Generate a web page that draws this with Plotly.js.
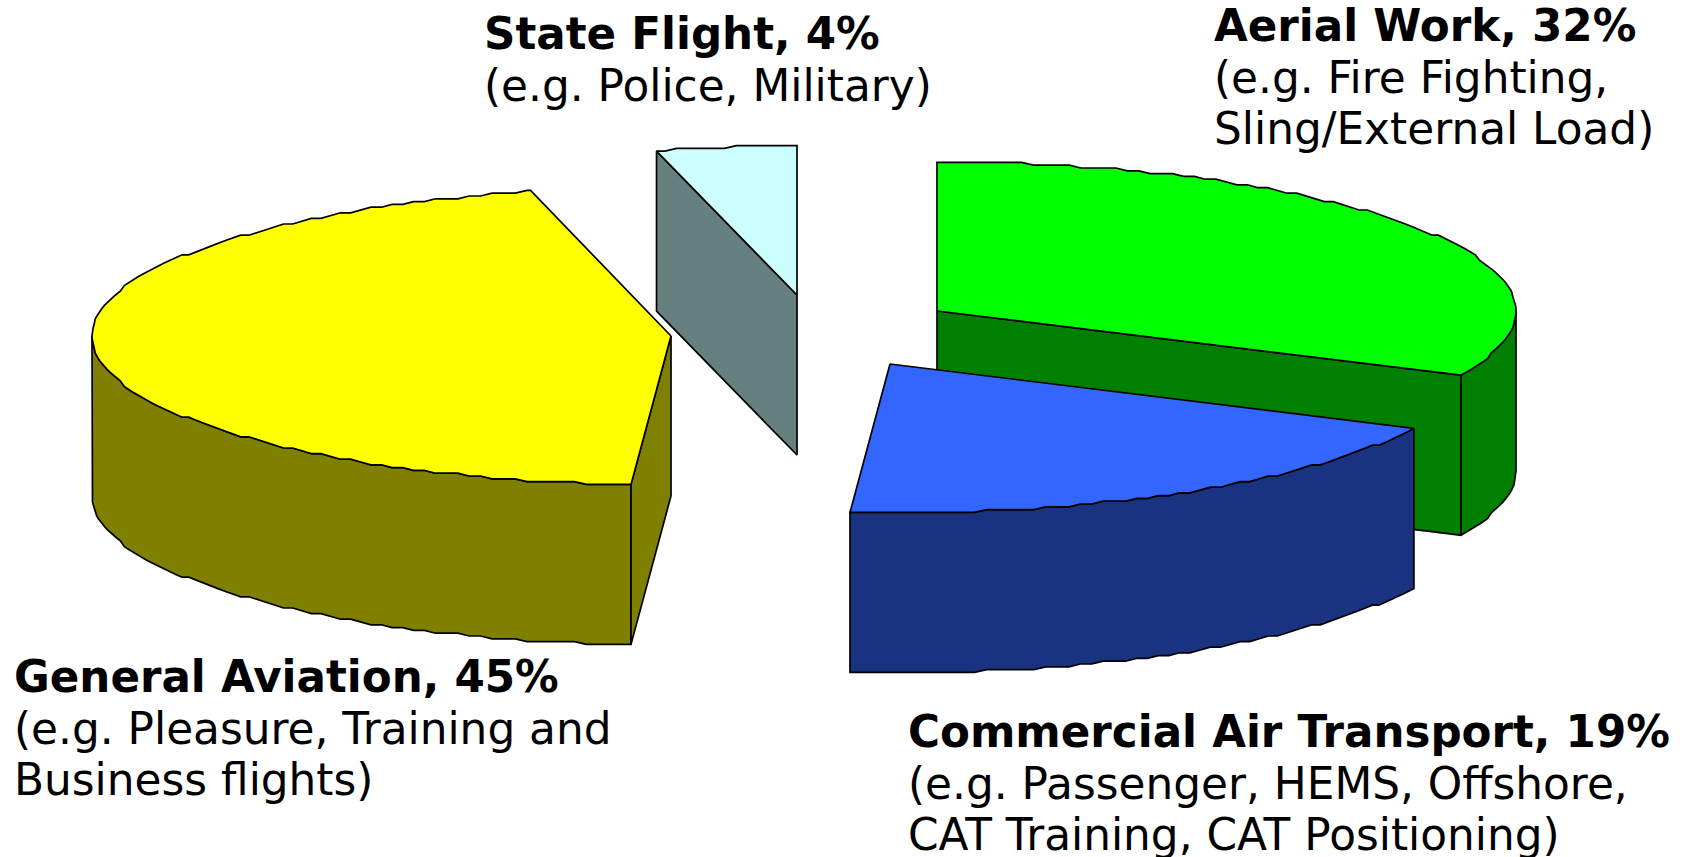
<!DOCTYPE html>
<html>
<head>
<meta charset="utf-8">
<title>Helicopter operations by type</title>
<script src="https://cdn.plot.ly/plotly-3.0.1.min.js"></script>
<style>html,body{margin:0;padding:0;background:#fff;overflow:hidden}#chart{width:1682px;height:857px}</style>
</head>
<body>
<div id="chart"></div>
<script>
// Data, in drawing order round the pie (clockwise from twelve o'clock)
const categories = ['Aerial Work', 'Commercial Air Transport', 'General Aviation', 'State Flight'];
const shares = [32, 19.1, 45, 3.9];
const exampleLines = [
  ['(e.g. Fire Fighting,', 'Sling/External Load)'],
  ['(e.g. Passenger, HEMS, Offshore,', 'CAT Training, CAT Positioning)'],
  ['(e.g. Pleasure, Training and', 'Business flights)'],
  ['(e.g. Police, Military)']
];

// Styles and placement
const topColors = ['#00FF00', '#3366FF', '#FFFF00', '#CCFFFF'];
const sideColors = ['#008000', '#1A3380', '#808000', '#668080'];
const centreX = [937, 890, 671, 797];
const centreY = [311, 364, 336, 295];
const labelX = [1213, 907, 13, 483];
const labelBaseline = [41, 747, 692, 49];
const lineGap = 51;
const drawOrder = [3, 0, 2, 1];
const radiusX = 579, radiusY = 149, depth = 160;
const boldSize = 43.6, plainSize = 43.8;
const LINE = {color: '#000', width: 1.7};
const STEP = 1.2;

function point(i, deg, drop) {
  const a = deg * Math.PI / 180;
  // the source outline is coarsely stepped in y
  const y = Math.round((centreY[i] - radiusY * Math.cos(a)) / 2.8) * 2.8;
  return [centreX[i] + radiusX * Math.sin(a), y + drop];
}
// Samples sit on one shared angular grid, so walls and tops share their edge
function arc(i, from, to, drop) {
  const lo = Math.min(from, to), hi = Math.max(from, to), degs = [lo];
  for (let k = Math.floor(lo / STEP) + 1; k * STEP < hi; k++) degs.push(k * STEP);
  degs.push(hi);
  if (from > to) degs.reverse();
  return degs.map(d => point(i, d, drop));
}
function poly(pts, fill) {
  const closed = pts.concat([pts[0]]);
  return {
    type: 'scatter', mode: 'lines', fill: 'toself', fillcolor: fill, line: LINE,
    x: closed.map(p => p[0]), y: closed.map(p => p[1]),
    hoverinfo: 'skip', showlegend: false
  };
}

const starts = [], ends = [];
shares.reduce((sum, s, i) => { starts[i] = sum * 3.6; ends[i] = (sum + s) * 3.6; return sum + s; }, 0);

const traces = [];
drawOrder.forEach(i => {
  const s = starts[i], e = ends[i];
  const apex = [centreX[i], centreY[i]], apexLow = [centreX[i], centreY[i] + depth];
  // outer wall: only the front half (90 to 270 degrees) can be seen
  const a = Math.max(s, 90), b = Math.min(e, 270);
  if (a < b) traces.push(poly(arc(i, a, b, 0).concat(arc(i, b, a, depth)), sideColors[i]));
  // cut faces that look towards the viewer
  if (i === 0) traces.push(poly([apex, point(i, e, 0), point(i, e, depth), apexLow], sideColors[i]));
  if (i === 2 || i === 3) traces.push(poly([apex, point(i, s, 0), point(i, s, depth), apexLow], sideColors[i]));
  // top surface
  traces.push(poly([apex].concat(arc(i, s, e, 0)), topColors[i]));
});

const FONT = '"DejaVu Sans", Verdana, sans-serif';
const annotations = [];
categories.forEach((c, i) => {
  const lines = ['<b>' + c + ', ' + Math.round(shares[i]) + '%</b>'].concat(exampleLines[i]);
  lines.forEach((text, k) => annotations.push({
    xref: 'x', yref: 'y', x: labelX[i], y: labelBaseline[i] + k * lineGap - 15,
    xanchor: 'left', yanchor: 'middle', align: 'left', showarrow: false, borderpad: 0,
    text: text, font: {family: FONT, size: k === 0 ? boldSize : plainSize, color: '#000'}
  }));
});

const hidden = {visible: false, fixedrange: true, showgrid: false, zeroline: false};
Plotly.newPlot('chart', traces, {
  width: 1682, height: 857,
  margin: {l: 0, r: 0, t: 0, b: 0},
  paper_bgcolor: '#fff', plot_bgcolor: '#fff',
  xaxis: Object.assign({range: [0, 1682]}, hidden),
  yaxis: Object.assign({range: [857, 0]}, hidden),
  showlegend: false, annotations: annotations
}, {displayModeBar: false, responsive: false});
</script>
</body>
</html>
